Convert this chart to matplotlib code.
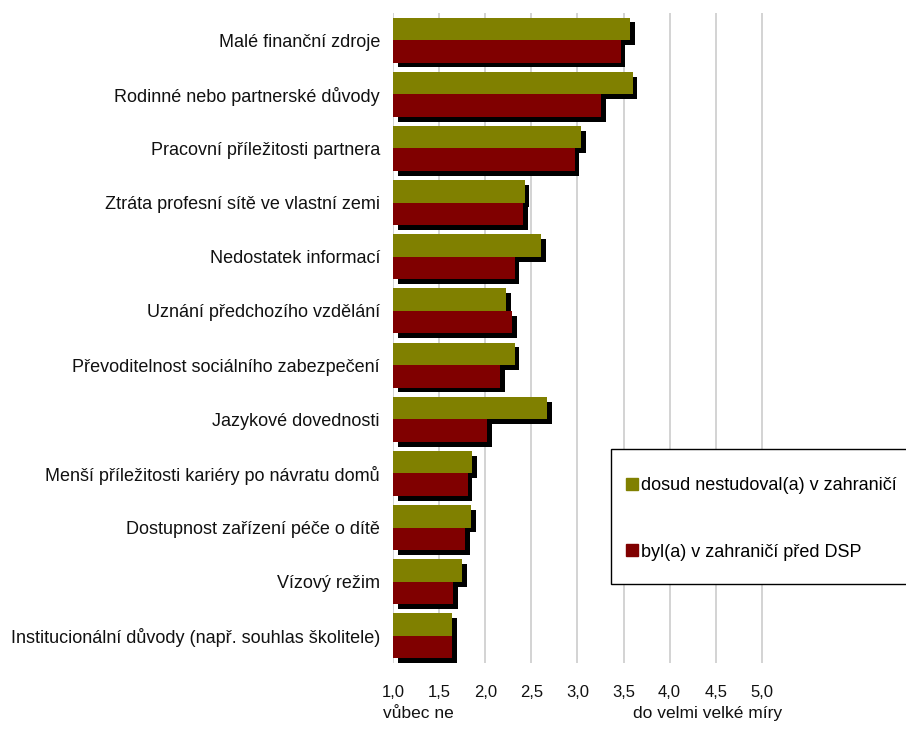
import numpy as np
import matplotlib.pyplot as plt
from matplotlib.patches import Patch, Rectangle

plt.rcParams['font.family'] = ['Liberation Sans', 'DejaVu Sans']

duvody = ["Malé finanční zdroje",
          "Rodinné nebo partnerské důvody",
          "Pracovní příležitosti partnera",
          "Ztráta profesní sítě ve vlastní zemi",
          "Nedostatek informací",
          "Uznání předchozího vzdělání",
          "Převoditelnost sociálního zabezpečení",
          "Jazykové dovednosti",
          "Menší příležitosti kariéry po návratu domů",
          "Dostupnost zařízení péče o dítě",
          "Vízový režim",
          "Institucionální důvody (např. souhlas školitele)"]
nestudoval = [3.57, 3.60, 3.04, 2.43, 2.61, 2.23, 2.32, 2.67, 1.86, 1.85, 1.75, 1.64]
byl = [3.47, 3.26, 2.97, 2.41, 2.32, 2.29, 2.16, 2.02, 1.81, 1.78, 1.65, 1.64]
serie = ["dosud nestudoval(a) v zahraničí", "byl(a) v zahraničí před DSP"]
ticks = [1.0, 1.5, 2.0, 2.5, 3.0, 3.5, 4.0, 4.5, 5.0]

olive = '#808000'
cervena = '#800000'
W, H = 906, 732

fig = plt.figure(figsize=(W/100, H/100), dpi=100)
ax = fig.add_axes([393/W, 1 - 663/H, 1 - 393/W, (663 - 13)/H])

y = np.arange(len(duvody))
h = 0.415
dx = 0.05   # posun stinu
dy = 0.09

a = np.array(nestudoval)
b = np.array(byl)
# stiny
ax.barh(y - h/2 + dy, a - 1, left=1 + dx, height=h, color='black', zorder=2)
ax.barh(y + h/2 + dy, b - 1, left=1 + dx, height=h, color='black', zorder=2)
# sloupce
ax.barh(y - h/2, a - 1, left=1, height=h, color=olive, zorder=3)
ax.barh(y + h/2, b - 1, left=1, height=h, color=cervena, zorder=3)

ax.set_ylim(len(duvody) - 0.5, -0.5)
ax.set_xlim(1.0, 1 + (W - 393)/92.2)
ax.set_yticks(y)
ax.set_yticklabels(duvody, fontsize=13, color='#111111')
ax.set_xticks(ticks)
ax.set_xticklabels([f"{t:.1f}".replace('.', ',') for t in ticks], fontsize=12, color='#111111')
ax.tick_params(length=0, axis='y', pad=9.4)
ax.tick_params(length=0, axis='x', pad=16)
ax.grid(axis='x', color='#cccccc', linewidth=1.2, zorder=0)
for s in ax.spines.values():
    s.set_visible(False)

# ramecek legendy (presahuje pres okraj)
ax.add_patch(Rectangle((611/W, 1 - 584/H), 320/W, (584 - 449)/H, transform=fig.transFigure,
                       facecolor='white', edgecolor='black', linewidth=1.0, zorder=4, clip_on=False))
handles = [Patch(color=olive), Patch(color=cervena)]
leg = ax.legend(handles, serie, loc='upper left', bbox_to_anchor=(626/W, 1 - 477/H),
                bbox_transform=fig.transFigure, fontsize=13, frameon=False,
                borderpad=0, labelspacing=2.75, handlelength=0.67, handleheight=0.67,
                handletextpad=0.15, borderaxespad=0)
leg.set_zorder(5)

fig.text(383/W, 1 - 718/H, "vůbec ne", fontsize=12.5, va='baseline', color='#111111')
fig.text(633/W, 1 - 718/H, "do velmi velké míry", fontsize=12.5, va='baseline', color='#111111')

fig.savefig('out.png', dpi=100)
